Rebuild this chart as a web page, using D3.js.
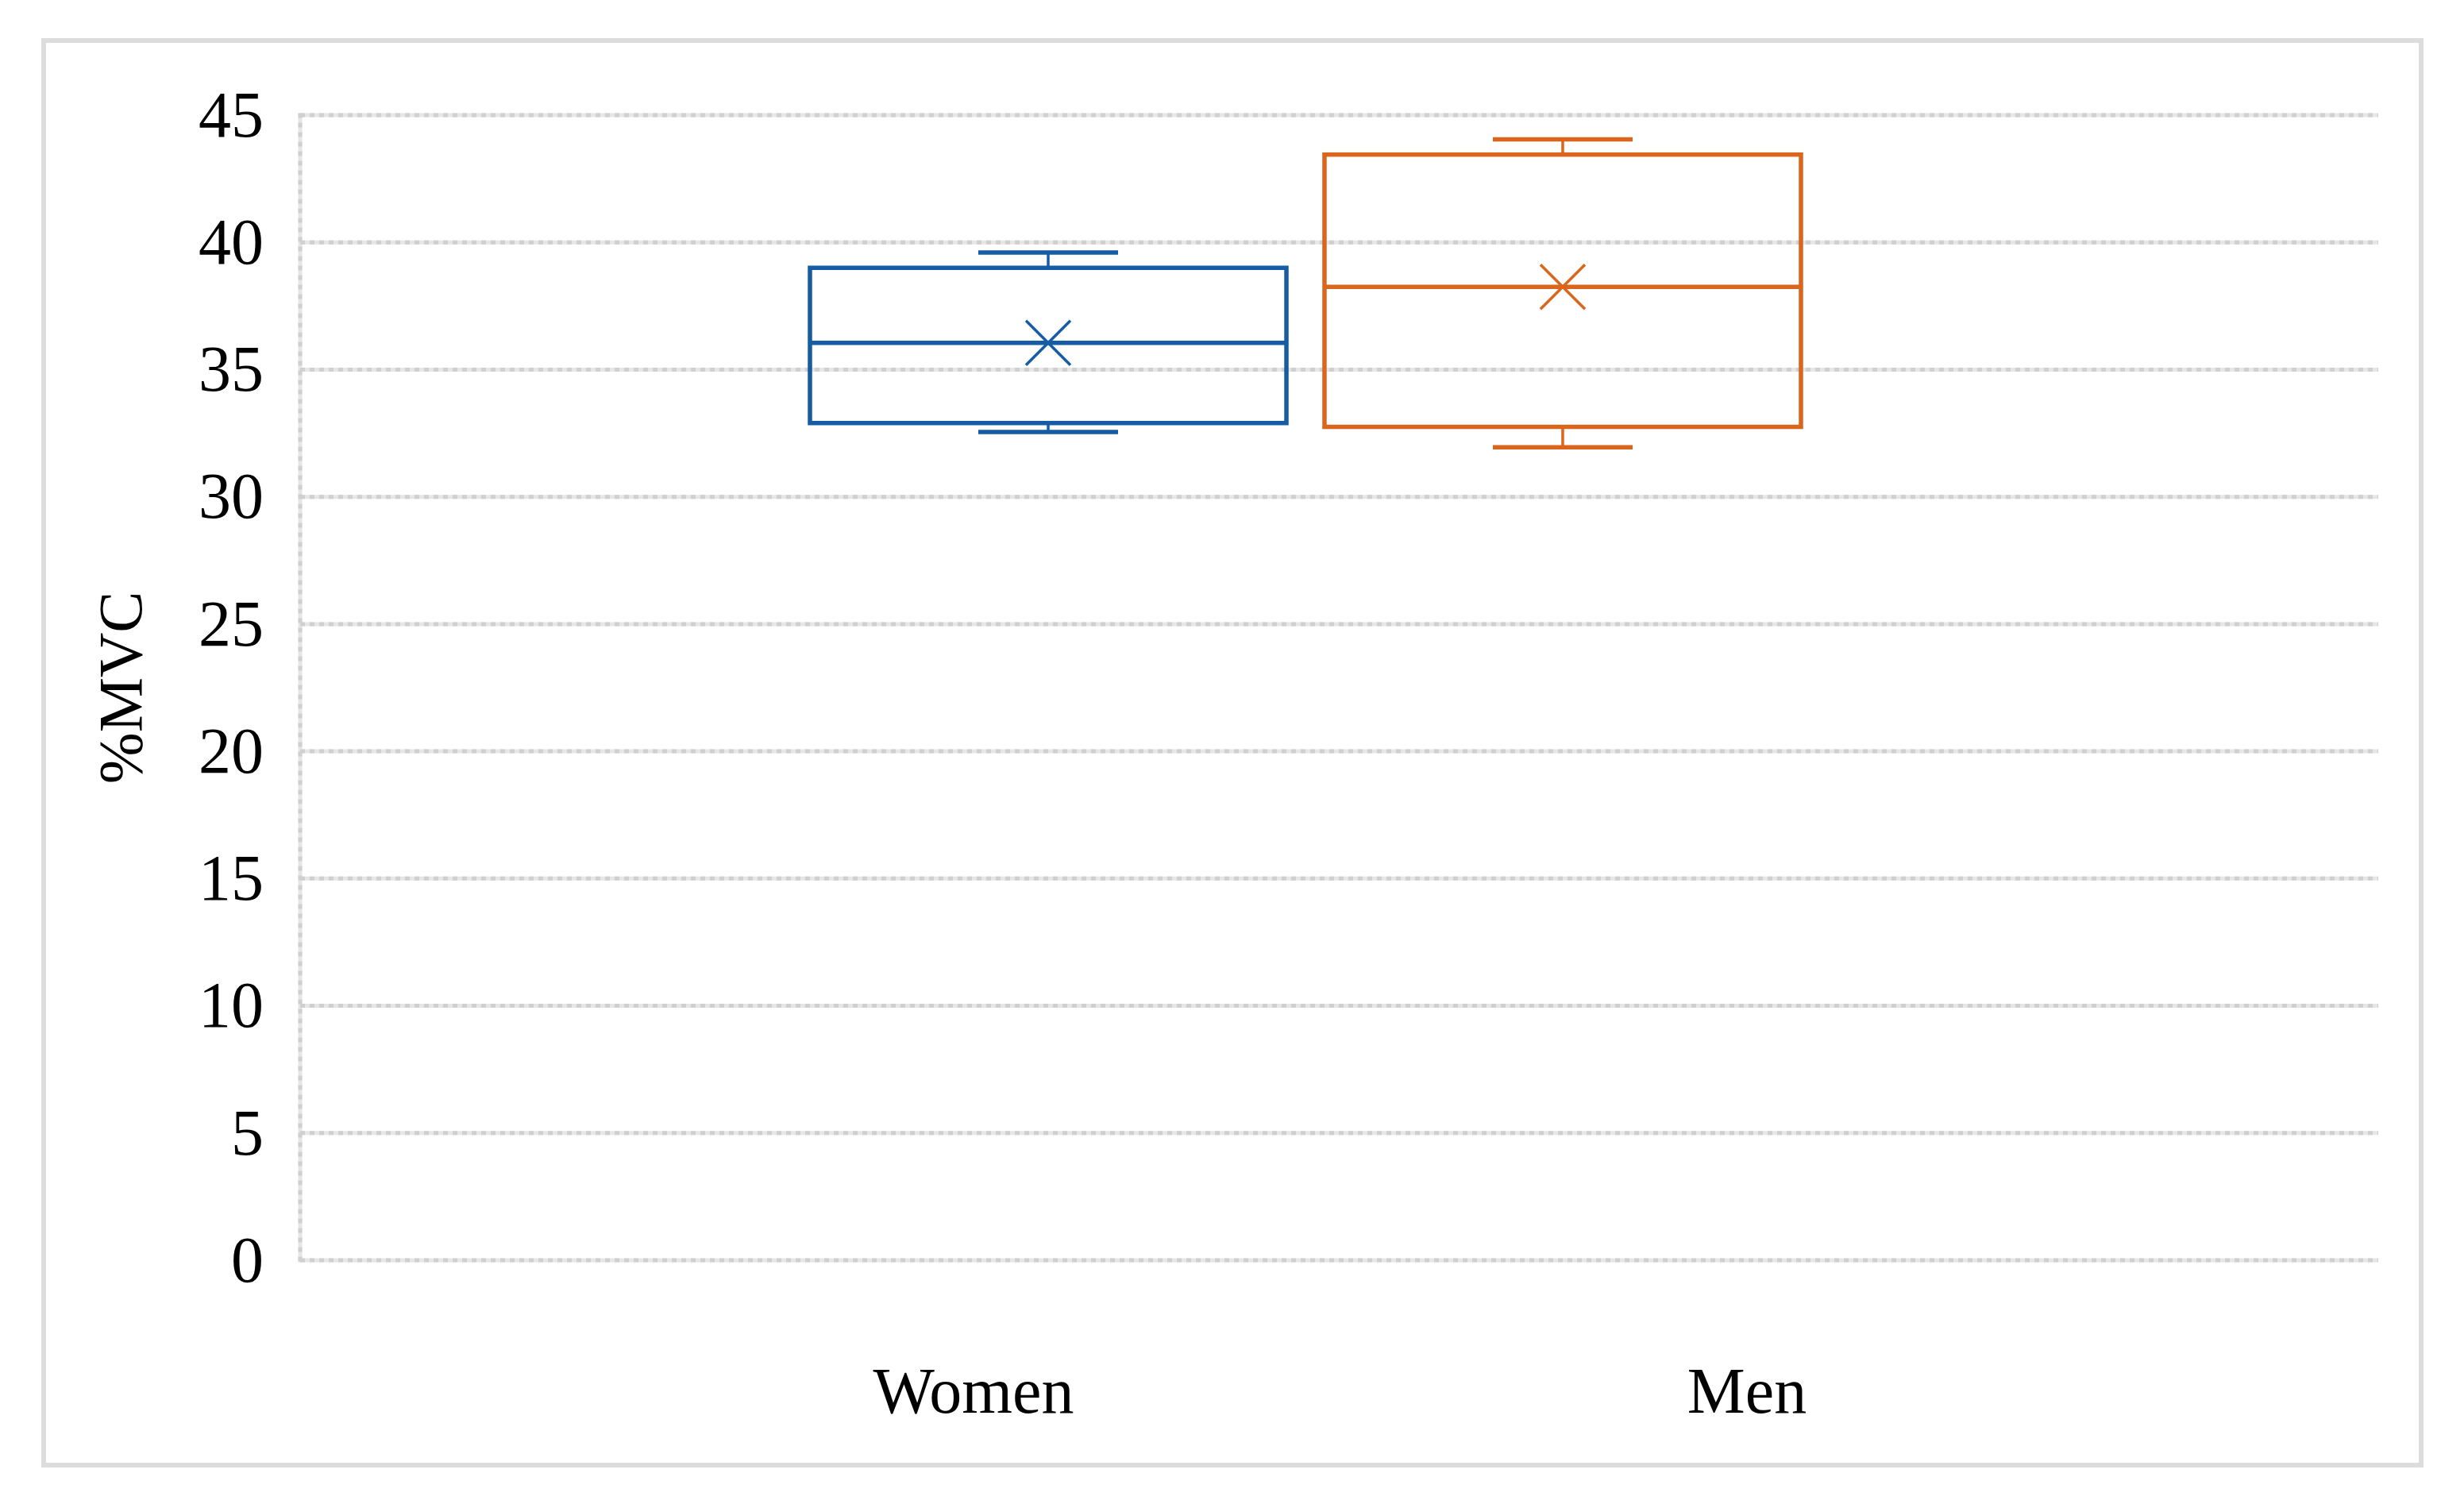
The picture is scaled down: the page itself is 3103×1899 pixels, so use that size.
<!DOCTYPE html>
<html>
<head>
<meta charset="utf-8">
<script src="https://cdn.jsdelivr.net/npm/d3@7"></script>
<style>
  html, body { margin: 0; padding: 0; background: #ffffff; }
  svg { display: block; }
</style>
</head>
<body>
<script>
// ---- data ----
const series = ["Women", "Men"];
const categoryLabels = ["Women", "Men"];
const minValues    = [32.55, 31.95];
const q1Values     = [32.9, 32.75];
const medianValues = [36.05, 38.25];
const meanValues   = [36.05, 38.25];
const q3Values     = [39.0, 43.45];
const maxValues    = [39.6, 44.05];
const yTicks = [0, 5, 10, 15, 20, 25, 30, 35, 40, 45];
const yTitle = "%MVC";
const colors = ["#155ca4", "#d9661c"];

// ---- layout ----
const W = 3103, H = 1899;
const plot = { left: 378, right: 2995, top: 145, bottom: 1587 };
const font = "'Liberation Serif', 'Times New Roman', serif";

const svg = d3.select("body").append("svg")
  .attr("width", W).attr("height", H);

svg.append("rect").attr("width", W).attr("height", H).attr("fill", "#fff");

// outer frame
svg.append("rect")
  .attr("x", 55).attr("y", 51)
  .attr("width", 2994).attr("height", 1794)
  .attr("fill", "none").attr("stroke", "#dcdcdc").attr("stroke-width", 6);

const y = d3.scaleLinear().domain([0, 45]).range([plot.bottom, plot.top]);
const x = d3.scaleBand().domain(series).range([1020, 2268]).paddingInner(0.074).paddingOuter(0);
const xl = d3.scalePoint().domain(categoryLabels).range([1226, 2200]);

// gridlines (light base + darker dots)
const grid = svg.append("g");
[["#e6e6e6", null], ["#d0d0d0", "6,6"]].forEach(([c, dash]) => {
  grid.append("g").selectAll("line").data(yTicks).join("line")
    .attr("x1", plot.left).attr("x2", plot.right)
    .attr("y1", d => y(d)).attr("y2", d => y(d))
    .attr("stroke", c).attr("stroke-width", 5)
    .attr("stroke-dasharray", dash);
  grid.append("line")
    .attr("x1", plot.left).attr("x2", plot.left)
    .attr("y1", plot.top - 2.5).attr("y2", plot.bottom + 2.5)
    .attr("stroke", c).attr("stroke-width", 5)
    .attr("stroke-dasharray", dash);
});

// y axis via d3.axisLeft (labels only)
const yAxis = svg.append("g")
  .attr("transform", `translate(${plot.left},0)`)
  .call(d3.axisLeft(y).tickValues(yTicks).tickSize(0).tickPadding(46));
yAxis.select(".domain").remove();
yAxis.selectAll("text")
  .attr("font-family", font).attr("font-size", 82).attr("fill", "#000");

// y title
svg.append("text")
  .attr("transform", `translate(178,${(plot.top + plot.bottom) / 2}) rotate(-90)`)
  .attr("text-anchor", "middle")
  .attr("font-family", font).attr("font-size", 78).attr("fill", "#000")
  .text(yTitle);

// category labels
svg.append("g").selectAll("text").data(categoryLabels).join("text")
  .attr("x", d => xl(d)).attr("y", 1779)
  .attr("text-anchor", "middle")
  .attr("font-family", font).attr("font-size", 82).attr("fill", "#000")
  .text(d => d);

// boxes
const data = series.map((s, i) => ({
  s, color: colors[i], min: minValues[i], q1: q1Values[i], med: medianValues[i],
  mean: meanValues[i], q3: q3Values[i], max: maxValues[i]
}));

const g = svg.append("g").selectAll("g").data(data).join("g");
const bw = x.bandwidth();
const cx = d => x(d.s) + bw / 2;
const capHalf = 88;

// whisker stems
g.append("line").attr("x1", cx).attr("x2", cx)
  .attr("y1", d => y(d.q3)).attr("y2", d => y(d.max))
  .attr("stroke", d => d.color).attr("stroke-width", 3.5);
g.append("line").attr("x1", cx).attr("x2", cx)
  .attr("y1", d => y(d.q1)).attr("y2", d => y(d.min))
  .attr("stroke", d => d.color).attr("stroke-width", 3.5);
// caps
g.append("line").attr("x1", d => cx(d) - capHalf).attr("x2", d => cx(d) + capHalf)
  .attr("y1", d => y(d.max)).attr("y2", d => y(d.max))
  .attr("stroke", d => d.color).attr("stroke-width", 5.5);
g.append("line").attr("x1", d => cx(d) - capHalf).attr("x2", d => cx(d) + capHalf)
  .attr("y1", d => y(d.min)).attr("y2", d => y(d.min))
  .attr("stroke", d => d.color).attr("stroke-width", 5.5);
// box
g.append("rect")
  .attr("x", d => x(d.s)).attr("width", bw)
  .attr("y", d => y(d.q3)).attr("height", d => y(d.q1) - y(d.q3))
  .attr("fill", "none").attr("stroke", d => d.color).attr("stroke-width", 5.5);
// median
g.append("line").attr("x1", d => x(d.s)).attr("x2", d => x(d.s) + bw)
  .attr("y1", d => y(d.med)).attr("y2", d => y(d.med))
  .attr("stroke", d => d.color).attr("stroke-width", 5.5);
// mean marker (X)
const mk = 28;
g.append("path")
  .attr("d", d => {
    const X = cx(d), Y = y(d.mean);
    return `M${X - mk},${Y - mk}L${X + mk},${Y + mk}M${X - mk},${Y + mk}L${X + mk},${Y - mk}`;
  })
  .attr("stroke", d => d.color).attr("stroke-width", 3.5).attr("fill", "none");
</script>
</body>
</html>
